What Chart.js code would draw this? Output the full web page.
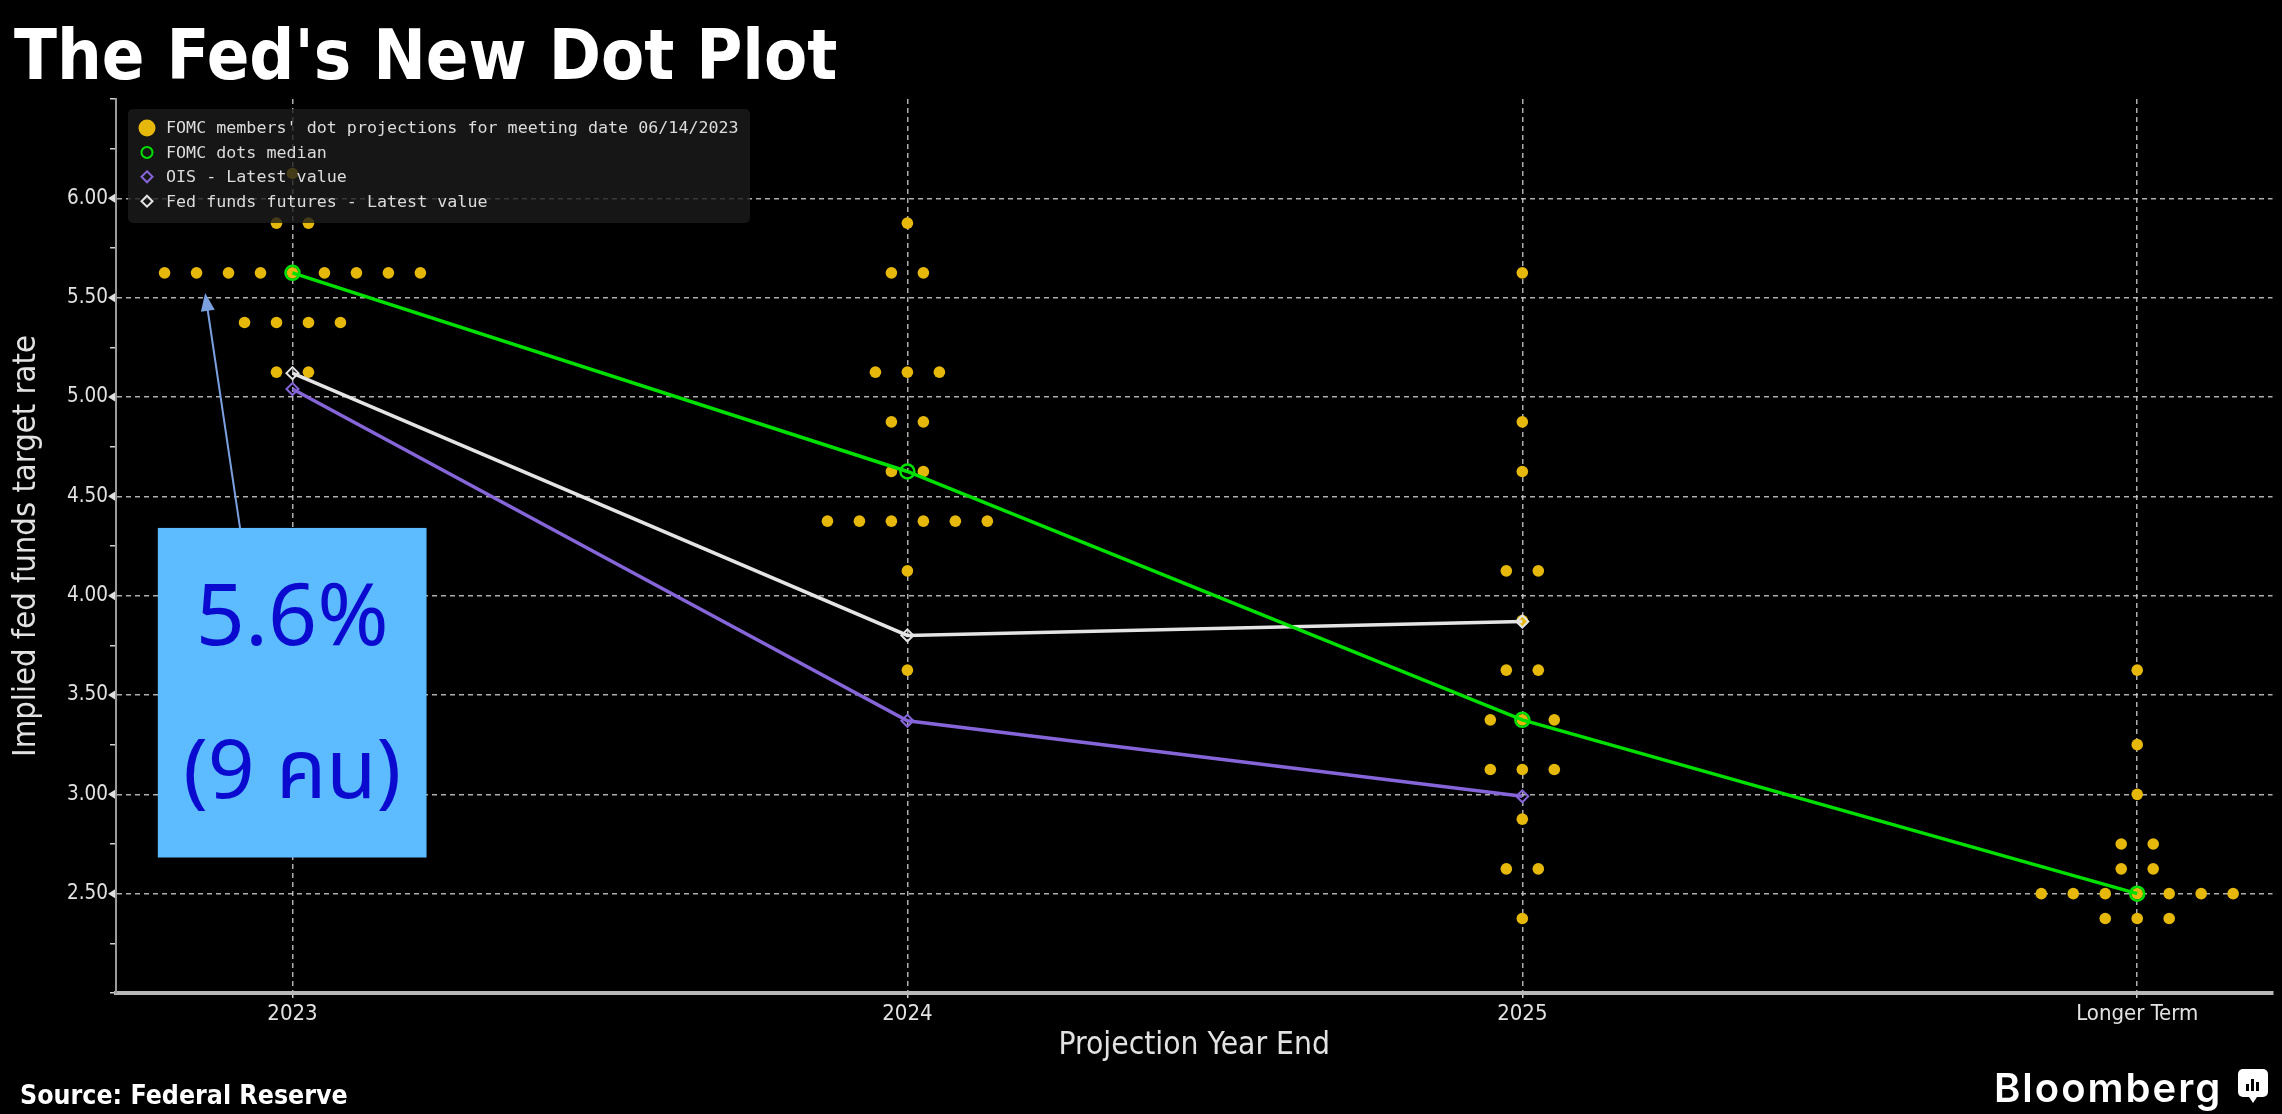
<!DOCTYPE html>
<html lang="en">
<head>
<meta charset="utf-8">
<title>The Fed's New Dot Plot</title>
<script src="https://cdn.jsdelivr.net/npm/chart.js@4.4.1/dist/chart.umd.min.js"></script>
<style>
  html, body { margin: 0; padding: 0; background: #000; }
  #page { position: relative; width: 2282px; height: 1114px; overflow: hidden; background: #000; }
  #chartBox { position: absolute; left: 0; top: 0; width: 2282px; height: 1114px; }
  h1 { position: absolute; left: 14px; top: 14px; margin: 0; color: #fff; line-height: 1;
       font: bold 70px 'DejaVu Sans Condensed', 'DejaVu Sans', sans-serif; }
  #source { position: absolute; left: 20px; top: 1079px; color: #fff; line-height: 1;
            font: bold 26.5px 'DejaVu Sans Condensed', 'DejaVu Sans', sans-serif; }
  #brand { position: absolute; left: 1994px; top: 1063px; color: #fff; line-height: 1;
           font: 600 40px Inter, 'Open Sans', sans-serif; letter-spacing: 2px; }
  #logo { position: absolute; left: 2238px; top: 1069px; width: 30px; height: 28px; background: #fff; border-radius: 5px; }
  #logo span { position: absolute; bottom: 6px; width: 3px; background: #000; }
  #logo:after { content: ''; position: absolute; left: 11px; top: 28px; border-left: 4px solid transparent;
                border-right: 4px solid transparent; border-top: 6px solid #fff; }
</style>
</head>
<body>
<div id="page">
  <div id="chartBox"><canvas id="myChart"></canvas></div>
  <h1>The Fed's New Dot Plot</h1>
  <div id="source">Source: Federal Reserve</div>
  <div id="brand">Bloomberg</div>
  <div id="logo"><span style="left:8px;height:7px"></span><span style="left:13px;height:12px"></span><span style="left:18px;height:9px"></span></div>
</div>
<script>
'use strict';

// data
let categories = ['2023', '2024', '2025', 'Longer Term'];

// one value per FOMC participant
let dots2023 = [6.125, 5.875, 5.875,
  5.625, 5.625, 5.625, 5.625, 5.625, 5.625, 5.625, 5.625, 5.625,
  5.375, 5.375, 5.375, 5.375, 5.125, 5.125];
let dots2024 = [5.875, 5.625, 5.625, 5.125, 5.125, 5.125, 4.875, 4.875, 4.625, 4.625,
  4.375, 4.375, 4.375, 4.375, 4.375, 4.375, 4.125, 3.625];
let dots2025 = [5.625, 4.875, 4.625, 4.125, 4.125, 3.875, 3.625, 3.625,
  3.375, 3.375, 3.375, 3.125, 3.125, 3.125, 2.875, 2.625, 2.625, 2.375];
let dotsLonger = [3.625, 3.25, 3.0, 2.75, 2.75, 2.625, 2.625,
  2.5, 2.5, 2.5, 2.5, 2.5, 2.5, 2.5, 2.375, 2.375, 2.375];

let medianValues = [5.625, 4.625, 3.375, 2.5];
let oisValues = [5.04, 3.37, 2.99];
let futuresValues = [5.12, 3.80, 3.87];

let yTickLabels = [2.5, 3.0, 3.5, 4.0, 4.5, 5.0, 5.5, 6.0];

let legendLabels = [
  "FOMC members' dot projections for meeting date 06/14/2023",
  'FOMC dots median',
  'OIS - Latest value',
  'Fed funds futures - Latest value'
];

let calloutLines = ['5.6%', '(9 คน)'];

// styling
let dotColor = '#e6b80c';
let medianColor = '#00e000';
let oisColor = '#8565d8';
let futuresColor = '#e4e4e4';
let gridColor = 'rgba(205,205,205,0.85)';
let textColor = '#e2e2e2';
let dotGap = 0.052;

// spread equal projections side by side around the category
function buildDots(groups){
  let points = [];
  groups.forEach((values, catIndex) => {
    let counts = new Map();
    values.forEach(v => counts.set(v, (counts.get(v) || 0) + 1));
    counts.forEach((n, v) => {
      for (let k = 0; k < n; k++){
        points.push({ x: catIndex + (k - (n - 1) / 2) * dotGap, y: v });
      }
    });
  });
  return points;
}

function toPoints(values){
  return values.map((v, i) => ({ x: i, y: v }));
}

function isMajor(v){
  return yTickLabels.some(t => Math.abs(t - v) < 1e-6);
}

let legendPlugin = {
  id: 'boxLegend',
  afterDatasetsDraw(chart){
    let ctx = chart.ctx;
    let area = chart.chartArea;
    let bx = area.left + 12;
    let by = area.top + 10;
    ctx.save();
    ctx.fillStyle = 'rgba(28,28,28,0.8)';
    ctx.beginPath();
    ctx.roundRect(bx, by, 622, 114, 5);
    ctx.fill();
    ctx.font = "16.7px 'DejaVu Sans Mono', monospace";
    ctx.textBaseline = 'middle';
    for (let i = 0; i < legendLabels.length; i++){
      let cy = by + 19 + i * 24.4;
      let mx = bx + 19;
      ctx.lineWidth = 2;
      if (i === 0){
        ctx.fillStyle = dotColor;
        ctx.beginPath(); ctx.arc(mx, cy, 8.5, 0, Math.PI * 2); ctx.fill();
      } else if (i === 1){
        ctx.strokeStyle = medianColor;
        ctx.beginPath(); ctx.arc(mx, cy, 5.5, 0, Math.PI * 2); ctx.stroke();
      } else {
        ctx.strokeStyle = i === 2 ? oisColor : futuresColor;
        ctx.beginPath();
        ctx.moveTo(mx, cy - 5.5); ctx.lineTo(mx + 5.5, cy); ctx.lineTo(mx, cy + 5.5); ctx.lineTo(mx - 5.5, cy);
        ctx.closePath(); ctx.stroke();
      }
      ctx.fillStyle = '#dcdcdc';
      ctx.fillText(legendLabels[i], bx + 38, cy + 1);
    }
    ctx.restore();
  }
};

let axisMarksPlugin = {
  id: 'axisMarks',
  afterDraw(chart){
    let ctx = chart.ctx;
    let yScale = chart.scales.y;
    let left = chart.chartArea.left;
    ctx.save();
    ctx.fillStyle = '#e0e0e0';
    yTickLabels.forEach(t => {
      let py = yScale.getPixelForValue(t);
      ctx.beginPath();
      ctx.moveTo(left - 8, py); ctx.lineTo(left - 1, py - 4.5); ctx.lineTo(left - 1, py + 4.5);
      ctx.closePath(); ctx.fill();
    });
    ctx.restore();
  }
};

let calloutPlugin = {
  id: 'callout',
  afterDraw(chart){
    let ctx = chart.ctx;
    let xs = chart.scales.x;
    let ys = chart.scales.y;
    let x1 = xs.getPixelForValue(-0.219), x2 = xs.getPixelForValue(0.218);
    let y1 = ys.getPixelForValue(4.341), y2 = ys.getPixelForValue(2.682);
    ctx.save();
    // arrow
    let ax = xs.getPixelForValue(-0.080), ay = ys.getPixelForValue(4.23);
    let tx = xs.getPixelForValue(-0.142), ty = ys.getPixelForValue(5.524);
    let ang = Math.atan2(ty - ay, tx - ax);
    ctx.strokeStyle = '#7ba0e0';
    ctx.fillStyle = '#7ba0e0';
    ctx.lineWidth = 2;
    ctx.beginPath(); ctx.moveTo(ax, ay);
    ctx.lineTo(tx - Math.cos(ang) * 14, ty - Math.sin(ang) * 14); ctx.stroke();
    ctx.beginPath();
    ctx.moveTo(tx, ty);
    ctx.lineTo(tx - Math.cos(ang) * 18 + Math.sin(ang) * 7, ty - Math.sin(ang) * 18 - Math.cos(ang) * 7);
    ctx.lineTo(tx - Math.cos(ang) * 18 - Math.sin(ang) * 7, ty - Math.sin(ang) * 18 + Math.cos(ang) * 7);
    ctx.closePath(); ctx.fill();
    // box
    ctx.fillStyle = '#5dbbff';
    ctx.fillRect(x1, y1, x2 - x1, y2 - y1);
    ctx.fillStyle = '#0b0bd0';
    ctx.textAlign = 'center';
    ctx.textBaseline = 'alphabetic';
    ctx.font = "86px 'Noto Sans', 'Noto Sans Thai', sans-serif";
    ctx.fillText(calloutLines[0], (x1 + x2) / 2, y1 + 117);
    ctx.font = "82px 'Noto Sans', 'Noto Sans Thai', sans-serif";
    ctx.fillText(calloutLines[1], (x1 + x2) / 2, y1 + 270);
    ctx.restore();
  }
};

let chartObject = {
  type: 'scatter',
  data: {
    datasets: [
      {
        type: 'line',
        label: 'FOMC dots median',
        data: toPoints(medianValues),
        borderColor: medianColor,
        borderWidth: 3.5,
        pointStyle: 'circle',
        pointRadius: 7,
        pointBorderWidth: 2.5,
        pointBorderColor: medianColor,
        pointBackgroundColor: 'rgba(0,0,0,0)',
        tension: 0,
        order: 1
      },
      {
        type: 'line',
        label: 'Fed funds futures - Latest value',
        data: toPoints(futuresValues),
        borderColor: futuresColor,
        borderWidth: 3.5,
        pointStyle: 'rectRot',
        pointRadius: 6,
        pointBorderWidth: 2,
        pointBorderColor: futuresColor,
        pointBackgroundColor: 'rgba(0,0,0,0)',
        tension: 0,
        order: 2
      },
      {
        type: 'line',
        label: 'OIS - Latest value',
        data: toPoints(oisValues),
        borderColor: oisColor,
        borderWidth: 3.5,
        pointStyle: 'rectRot',
        pointRadius: 6,
        pointBorderWidth: 2,
        pointBorderColor: oisColor,
        pointBackgroundColor: 'rgba(0,0,0,0)',
        tension: 0,
        order: 3
      },
      {
        label: "FOMC members' dot projections",
        data: buildDots([dots2023, dots2024, dots2025, dotsLonger]),
        backgroundColor: dotColor,
        borderWidth: 0,
        pointRadius: 5.8,
        order: 4
      }
    ]
  },
  options: {
    responsive: true,
    maintainAspectRatio: false,
    animation: false,
    layout: { padding: { left: 0, top: 99, right: 7, bottom: 0 } },
    plugins: {
      legend: { display: false },
      tooltip: { enabled: false }
    },
    scales: {
      x: {
        type: 'linear',
        min: -0.287,
        max: 3.22,
        afterBuildTicks: s => { s.ticks = categories.map((c, i) => ({ value: i })); },
        afterFit: s => { s.height = 121; },
        ticks: {
          callback: v => categories[v],
          color: textColor,
          autoSkip: false,
          maxRotation: 0,
          padding: 3,
          font: { family: "'DejaVu Sans Condensed', 'DejaVu Sans'", size: 22 }
        },
        grid: { color: gridColor, lineWidth: 1.5, tickColor: '#cfcfcf', tickLength: 5, tickWidth: 1.5 },
        border: { color: '#b8b8b8', width: 4, dash: [5, 4] },
        title: {
          display: true,
          text: 'Projection Year End',
          color: textColor,
          font: { family: "'DejaVu Sans Condensed', 'DejaVu Sans'", size: 31.5 },
          padding: { top: 0, bottom: 49 }
        }
      },
      y: {
        type: 'linear',
        min: 2,
        max: 6.5,
        afterFit: s => { s.width = 116; },
        ticks: {
          stepSize: 0.25,
          autoSkip: false,
          color: textColor,
          padding: 2,
          font: { family: "'DejaVu Sans Condensed', 'DejaVu Sans'", size: 20.5 },
          callback: v => isMajor(v) ? v.toFixed(2) : ''
        },
        grid: {
          color: c => (c.tick && isMajor(c.tick.value)) ? gridColor : 'rgba(0,0,0,0)',
          lineWidth: 1.5,
          tickColor: '#cfcfcf',
          tickLength: 6,
          tickWidth: 1.5
        },
        border: { color: '#9a9a9a', width: 2, dash: [5, 4] },
        title: {
          display: true,
          text: 'Implied fed funds target rate',
          color: textColor,
          font: { family: "'DejaVu Sans Condensed', 'DejaVu Sans'", size: 32.5 },
          padding: { top: 7, bottom: 0 }
        }
      }
    }
  },
  plugins: [legendPlugin, axisMarksPlugin, calloutPlugin]
};

let ctx = document.getElementById('myChart').getContext('2d');
let myChart = new Chart(ctx, chartObject);
</script>
</body>
</html>
